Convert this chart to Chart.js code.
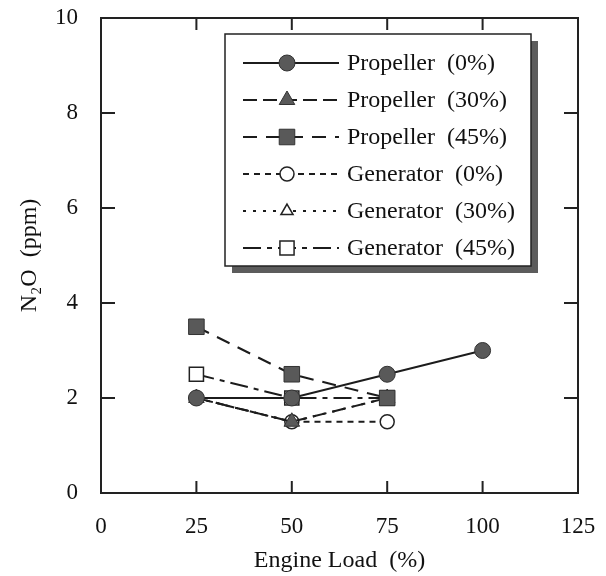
<!DOCTYPE html>
<html>
<head>
<meta charset="utf-8">
<script src="https://cdn.jsdelivr.net/npm/chart.js@4.4.1/dist/chart.umd.min.js"></script>
<style>
  html, body { margin: 0; padding: 0; background: #fff; }
  #wrap { width: 606px; height: 576px; }
</style>
</head>
<body>
<div id="wrap"><canvas id="n2o"></canvas></div>
<script>
// engine load (%) and N2O (ppm)
const loads = [25, 50, 75, 100];
const propeller0 = [2.0, 2.0, 2.5, 3.0];
const propeller30 = [2.0, 1.5, 2.0];
const propeller45 = [3.5, 2.5, 2.0];
const generator0 = [2.0, 1.5, 1.5];
const generator30 = [2.0, 1.5, 2.0];
const generator45 = [2.5, 2.0, 2.0];
const xTicks = [0, 25, 50, 75, 100, 125];
const yTicks = [0, 2, 4, 6, 8, 10];
const seriesNames = ["Propeller  (0%)", "Propeller  (30%)", "Propeller  (45%)",
                     "Generator  (0%)", "Generator  (30%)", "Generator  (45%)"];

const serif = "'Liberation Serif', 'Times New Roman', serif";
const pts = vals => vals.map((v, i) => ({ x: loads[i], y: v }));

// order: lower number is drawn on top
function serie(i, vals, style, dash, filled, radius, order) {
  return {
    label: seriesNames[i],
    data: pts(vals),
    order: order,
    borderColor: "#1c1c1c",
    borderWidth: 2,
    borderDash: dash,
    pointStyle: style,
    pointRadius: radius,
    pointHoverRadius: radius,
    pointBackgroundColor: filled ? "#595959" : "#ffffff",
    pointBorderColor: filled ? "#333" : "#222",
    pointBorderWidth: filled ? 1 : 1.5,
    fill: false,
    tension: 0
  };
}

// frame with inward ticks, like the original plot
const frame = {
  id: "frame",
  afterDatasetsDraw(chart) {
    const { ctx, chartArea: a, scales } = chart;
    ctx.save();
    ctx.strokeStyle = "#222";
    ctx.lineWidth = 2;
    ctx.strokeRect(a.left, a.top, a.right - a.left, a.bottom - a.top);
    ctx.beginPath();
    xTicks.forEach(t => {
      const px = scales.x.getPixelForValue(t);
      ctx.moveTo(px, a.bottom); ctx.lineTo(px, a.bottom - 12);
      ctx.moveTo(px, a.top); ctx.lineTo(px, a.top + 12);
    });
    yTicks.forEach(t => {
      const py = scales.y.getPixelForValue(t);
      ctx.moveTo(a.left, py); ctx.lineTo(a.left + 14, py);
      ctx.moveTo(a.right, py); ctx.lineTo(a.right - 14, py);
    });
    ctx.stroke();
    ctx.restore();
  }
};

// boxed legend with drop shadow inside the plot
const boxLegend = {
  id: "boxLegend",
  afterDraw(chart) {
    const { ctx, chartArea: a } = chart;
    const bx = a.left + 124, by = a.top + 16, bw = 306, bh = 232;
    ctx.save();
    ctx.fillStyle = "#5c5c5c";
    ctx.fillRect(bx + 7, by + 7, bw, bh);
    ctx.fillStyle = "#fff";
    ctx.fillRect(bx, by, bw, bh);
    ctx.strokeStyle = "#222";
    ctx.lineWidth = 1.5;
    ctx.strokeRect(bx, by, bw, bh);
    ctx.font = "24px " + serif;
    ctx.textBaseline = "middle";
    chart.data.datasets.forEach((ds, i) => {
      const y = by + 29 + i * 37;
      ctx.strokeStyle = ds.borderColor;
      ctx.lineWidth = ds.borderWidth;
      ctx.setLineDash(ds.borderDash);
      ctx.beginPath();
      ctx.moveTo(bx + 18, y); ctx.lineTo(bx + 114, y);
      ctx.stroke();
      ctx.setLineDash([]);
      ctx.fillStyle = ds.pointBackgroundColor;
      ctx.strokeStyle = ds.pointBorderColor;
      ctx.lineWidth = ds.pointBorderWidth;
      Chart.helpers.drawPoint(ctx, {
        pointStyle: ds.pointStyle, radius: ds.pointRadius,
        rotation: 0, borderWidth: ds.pointBorderWidth
      }, bx + 62, y);
      ctx.fillStyle = "#111";
      ctx.fillText(ds.label, bx + 122, y + 1);
    });
    ctx.restore();
  }
};

new Chart(document.getElementById("n2o"), {
  type: "line",
  data: {
    datasets: [
      serie(0, propeller0, "circle", [], true, 8, 1),
      serie(1, propeller30, "triangle", [14, 6], true, 9, 2),
      serie(2, propeller45, "rect", [14, 9], true, 11, 0),
      serie(3, generator0, "circle", [6, 5], false, 7, 3),
      serie(4, generator30, "triangle", [3, 7], false, 7, 4),
      serie(5, generator45, "rect", [18, 6, 5, 6], false, 10, 3)
    ]
  },
  options: {
    responsive: true,
    maintainAspectRatio: false,
    animation: false,
    devicePixelRatio: 1,
    layout: { padding: { top: 18, right: 28, left: 0, bottom: 0 } },
    plugins: { legend: { display: false }, tooltip: { enabled: false } },
    scales: {
      x: {
        type: "linear", min: 0, max: 125,
        afterBuildTicks: s => { s.ticks = xTicks.map(v => ({ value: v })); },
        afterFit: s => { s.height = 83; s.paddingLeft = 0; s.paddingRight = 0; },
        grid: { display: false }, border: { display: false },
        ticks: { color: "#111", font: { family: serif, size: 23 }, padding: 12, maxRotation: 0 },
        title: { display: true, text: "Engine Load  (%)", color: "#111",
                 font: { family: serif, size: 24 }, padding: { top: 4, bottom: 1 } }
      },
      y: {
        min: 0, max: 10,
        afterBuildTicks: s => { s.ticks = yTicks.map(v => ({ value: v })); },
        afterFit: s => { s.width = 101; s.paddingTop = 0; s.paddingBottom = 0; },
        grid: { display: false }, border: { display: false },
        ticks: { color: "#111", font: { family: serif, size: 23 }, padding: 15 },
        title: { display: true, text: "N\u2082O  (ppm)", color: "#111",
                 font: { family: serif, size: 24 }, padding: { top: 15, bottom: 4 } }
      }
    }
  },
  plugins: [frame, boxLegend]
});
</script>
</body>
</html>
